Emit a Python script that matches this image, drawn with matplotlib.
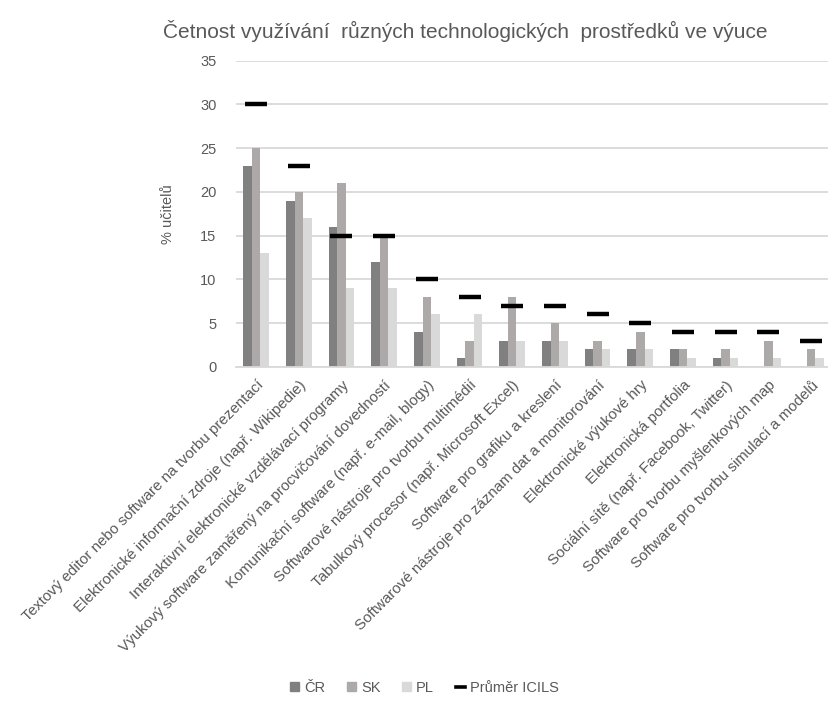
import numpy as np
import matplotlib.pyplot as plt
from matplotlib import font_manager
from matplotlib.lines import Line2D
from matplotlib.patches import Patch

# Prefer a condensed sans face if one is present
names = {f.name for f in font_manager.fontManager.ttflist}
narrow = [n for n in ['Liberation Sans Narrow', 'Arial Narrow'] if n in names]
plt.rcParams['font.family'] = narrow + ['Liberation Sans', 'DejaVu Sans']

categories = [
    'Textový editor nebo software na tvorbu prezentací',
    'Elektronické informační zdroje (např. Wikipedie)',
    'Interaktivní elektronické vzdělávací programy',
    'Výukový software zaměřený na procvičování dovedností',
    'Komunikační software (např. e-mail, blogy)',
    'Softwarové nástroje pro tvorbu multimédií',
    'Tabulkový procesor (např. Microsoft Excel)',
    'Software pro grafiku a kreslení',
    'Softwarové nástroje pro záznam dat a monitorování',
    'Elektronické výukové hry',
    'Elektronická portfolia',
    'Sociální sítě (např. Facebook, Twitter)',
    'Software pro tvorbu myšlenkových map',
    'Software pro tvorbu simulací a modelů',
]
cr = [23, 19, 16, 12, 4, 1, 3, 3, 2, 2, 2, 1, 0, 0]
sk = [25, 20, 21, 15, 8, 3, 8, 5, 3, 4, 2, 2, 3, 2]
pl = [13, 17, 9, 9, 6, 6, 3, 3, 2, 2, 1, 1, 1, 1]
icils = [30, 23, 15, 15, 10, 8, 7, 7, 6, 5, 4, 4, 4, 3]

text_col = '#595959'
grid_col = '#D9D9D9'
colors = ['#808080', '#ADA9A8', '#D9D9D9']

fig = plt.figure(figsize=(8.29, 7.01), dpi=100)
ax = fig.add_axes([0.2847, 0.4765, 0.7153, 0.4369])

x = np.arange(len(categories))
w = 0.2
ax.bar(x - w, cr, w, color=colors[0], zorder=2)
ax.bar(x, sk, w, color=colors[1], zorder=2)
ax.bar(x + w, pl, w, color=colors[2], zorder=2)
ax.plot(x, icils, linestyle='none', marker='_', markersize=16,
        markeredgewidth=3.2, color='black', zorder=3)

ax.set_xlim(-0.47, 13.42)
ax.set_ylim(0, 35)
ax.set_yticks(range(0, 36, 5))
ax.yaxis.grid(True, color=grid_col, linewidth=1.3, zorder=0)
ax.set_axisbelow(True)
for s in ['top', 'right', 'left']:
    ax.spines[s].set_visible(False)
ax.spines['bottom'].set_color(grid_col)
ax.spines['bottom'].set_linewidth(1.3)
ax.tick_params(length=0, colors=text_col, labelsize=10.5)
ax.tick_params(axis='y', pad=14)

ax.set_xticks(x)
ax.set_xticklabels(categories, rotation=45, ha='right', va='top',
                   rotation_mode='anchor', fontsize=10.9, color=text_col)
ax.tick_params(axis='x', pad=8)

ax.set_ylabel('% učitelů', color=text_col, fontsize=10.5, labelpad=18)

fig.text(0.561, 0.956, 'Četnost využívání  různých technologických  prostředků ve výuce',
         ha='center', va='center', fontsize=15, color=text_col)

# Legend: square patches for the countries, short bar for the ICILS mean
handles = [Patch(color=c) for c in colors]
handles.append(Line2D([], [], color='black', linewidth=2.6))
labels = ['ČR', 'SK', 'PL', 'Průměr ICILS']
leg = fig.legend(handles, labels, loc='center', bbox_to_anchor=(0.512, 0.019),
                 ncol=4, frameon=False, fontsize=10.5, handlelength=0.6,
                 handleheight=0.6, handletextpad=0.35, columnspacing=1.5)
for t in leg.get_texts():
    t.set_color(text_col)

fig.savefig('out.png', dpi=100)
